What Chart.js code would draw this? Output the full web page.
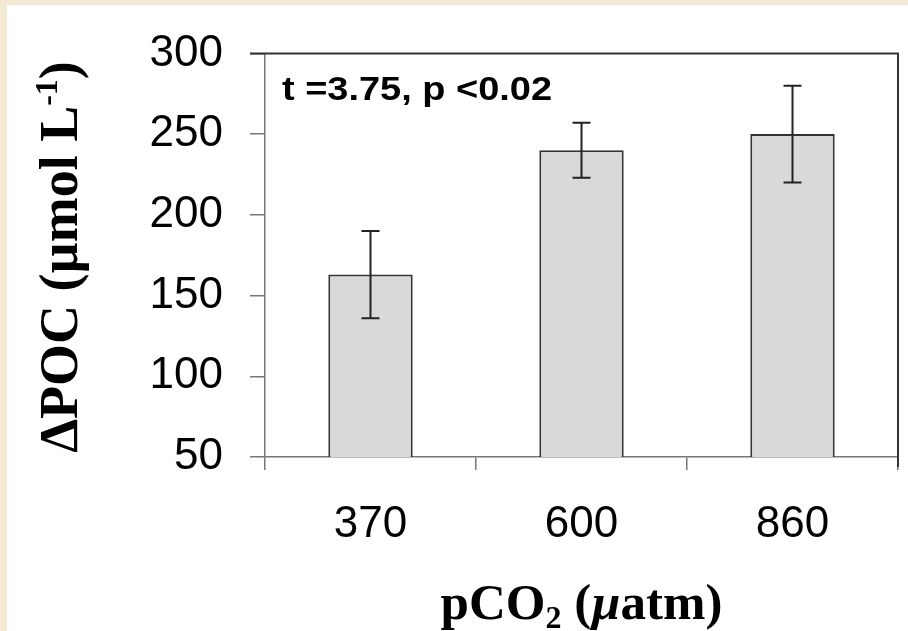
<!DOCTYPE html>
<html>
<head>
<meta charset="utf-8">
<script src="https://cdn.jsdelivr.net/npm/chart.js@4"></script>
<style>
    html, body { margin: 0; padding: 0; background: #f4ead3; }
    #wrap { width: 908px; height: 631px; }
</style>
</head>
<body>
<div id="wrap"><canvas id="grafico" width="908" height="631"></canvas></div>
<script>
const categorias = ['370', '600', '860'];
const valores = [163, 240, 250];
const erros = [27, 17, 30];
const ticksY = [50, 100, 150, 200, 250, 300];
const nota = 't =3.75, p <0.02';

const sans = '"Liberation Sans", Arial, sans-serif';
const serif = '"Liberation Serif", "Times New Roman", serif';

// desenha trechos de texto com tamanhos/estilos diferentes (sub e sobrescrito)
const desenhaTrechos = (ctx, trechos, cx, baseY) => {
    let total = 0;
    trechos.forEach(t => {
        ctx.font = t.font;
        total += ctx.measureText(t.txt).width;
    });
    let x = cx - total / 2;
    ctx.textAlign = 'left';
    ctx.textBaseline = 'alphabetic';
    trechos.forEach(t => {
        ctx.font = t.font;
        ctx.fillText(t.txt, x, baseY + (t.dy || 0));
        x += ctx.measureText(t.txt).width;
    });
};

const fundo = {
    id: 'fundo',
    beforeDraw(chart) {
        const ctx = chart.ctx;
        ctx.save();
        ctx.fillStyle = '#f4ead3';
        ctx.fillRect(0, 0, chart.width, chart.height);
        ctx.fillStyle = '#ffffff';
        ctx.fillRect(7, 5, chart.width - 7, chart.height - 5);
        ctx.restore();
    }
};

const barrasErro = {
    id: 'barrasErro',
    afterDatasetsDraw(chart) {
        const ctx = chart.ctx;
        const y = chart.scales.y;
        const meta = chart.getDatasetMeta(0);
        ctx.save();
        ctx.strokeStyle = '#222';
        ctx.lineWidth = 2;
        meta.data.forEach((bar, i) => {
            const topo = y.getPixelForValue(valores[i] + erros[i]);
            const base = y.getPixelForValue(valores[i] - erros[i]);
            ctx.beginPath();
            ctx.moveTo(bar.x, topo);
            ctx.lineTo(bar.x, base);
            ctx.moveTo(bar.x - 9, topo);
            ctx.lineTo(bar.x + 9, topo);
            ctx.moveTo(bar.x - 9, base);
            ctx.lineTo(bar.x + 9, base);
            ctx.stroke();
        });
        ctx.restore();
    }
};

const moldura = {
    id: 'moldura',
    afterDraw(chart) {
        const ctx = chart.ctx;
        const a = chart.chartArea;
        ctx.save();
        ctx.strokeStyle = '#333';
        ctx.lineWidth = 2;
        ctx.beginPath();
        ctx.moveTo(a.left - 15, a.top);
        ctx.lineTo(a.right, a.top);
        ctx.lineTo(a.right, a.bottom + 10);
        ctx.stroke();

        // anotacao do teste t (um pouco esticada na horizontal como no original)
        ctx.save();
        ctx.fillStyle = '#000';
        ctx.font = 'bold 33px ' + sans;
        ctx.textAlign = 'left';
        ctx.textBaseline = 'alphabetic';
        ctx.translate(a.left + 17, 100);
        ctx.scale(1.15, 1);
        ctx.fillText(nota, 0, 0);
        ctx.restore();

        ctx.fillStyle = '#000';
        // titulo do eixo x
        desenhaTrechos(ctx, [
            { txt: 'pCO', font: 'bold 51px ' + serif },
            { txt: '2', font: 'bold 32px ' + serif, dy: 9 },
            { txt: ' (', font: 'bold 51px ' + serif },
            { txt: 'µ', font: 'italic bold 51px ' + serif },
            { txt: 'atm)', font: 'bold 51px ' + serif }
        ], (a.left + a.right) / 2, 619);

        // titulo do eixo y
        ctx.translate(77, 257);
        ctx.rotate(-Math.PI / 2);
        desenhaTrechos(ctx, [
            { txt: 'ΔPOC (µmol L', font: 'bold 54px ' + serif },
            { txt: '-1', font: 'bold 32px ' + serif, dy: -20 },
            { txt: ')', font: 'bold 54px ' + serif }
        ], 0, 0);
        ctx.restore();
    }
};

const ctx = document.getElementById('grafico').getContext('2d');
const grafico = new Chart(ctx, {
    type: 'bar',
    data: {
        labels: categorias,
        datasets: [{
            data: valores,
            backgroundColor: '#d9d9d9',
            borderColor: '#333',
            borderWidth: 2,
            borderSkipped: 'bottom',
            barPercentage: 0.4,
            categoryPercentage: 1
        }]
    },
    plugins: [fundo, barrasErro, moldura],
    options: {
        responsive: false,
        animation: false,
        events: [],
        layout: { padding: { top: 49, right: 10, left: 0, bottom: 0 } },
        plugins: {
            legend: { display: false },
            tooltip: { enabled: false }
        },
        scales: {
            x: {
                afterFit: s => { s.height = 174; },
                grid: {
                    offset: true,
                    drawOnChartArea: false,
                    tickLength: 13,
                    color: '#777',
                    lineWidth: 1.5
                },
                border: { color: '#777', width: 1.5 },
                ticks: {
                    padding: 28,
                    color: '#000',
                    font: { family: sans, size: 44 }
                }
            },
            y: {
                min: 50,
                max: 300,
                afterFit: s => { s.width = 265; },
                afterBuildTicks: s => { s.ticks = ticksY.map(v => ({ value: v })); },
                grid: {
                    drawOnChartArea: false,
                    tickLength: 15,
                    color: '#777',
                    lineWidth: 1.5
                },
                border: { color: '#777', width: 1.5 },
                ticks: {
                    padding: 27,
                    color: '#000',
                    font: { family: sans, size: 44 }
                }
            }
        }
    }
});
</script>
</body>
</html>
